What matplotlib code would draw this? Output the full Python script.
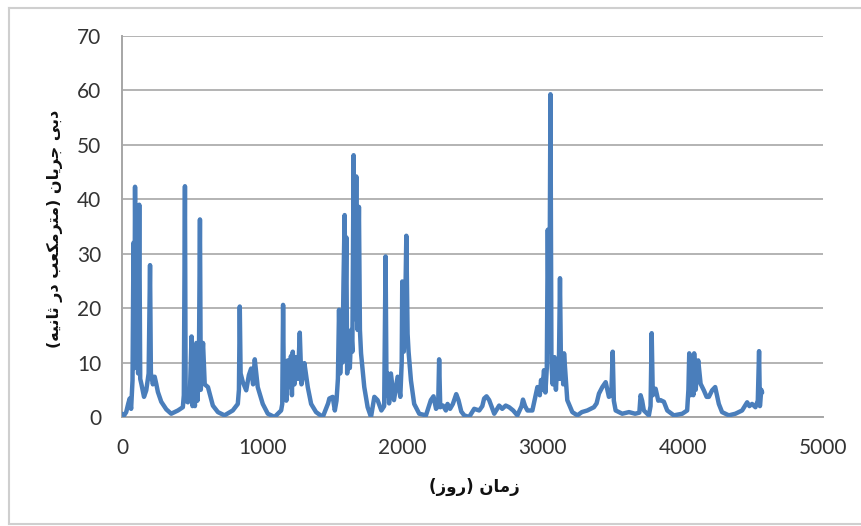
import matplotlib
matplotlib.use("Agg")
import matplotlib.pyplot as plt
from matplotlib.lines import Line2D

# ---------------- data ----------------
days = [0, 15, 30, 45, 55, 65, 75, 82, 88, 93, 100, 108, 115, 123, 130, 138, 157, 173, 190, 200,
        206, 209, 220, 233, 245, 256, 280, 316, 351, 399, 434, 441, 449, 454, 470, 485, 496, 503, 512, 520,
        530, 538, 548, 556, 562, 570, 578, 590, 613, 648, 684, 731, 790, 826, 834, 840, 846, 862, 886, 905,
        921, 935, 947, 968, 1004, 1040, 1088, 1135, 1143, 1149, 1155, 1165, 1172, 1182, 1195, 1205, 1212, 1218, 1230, 1242,
        1255, 1268, 1280, 1289, 1301, 1325, 1349, 1384, 1432, 1470, 1479, 1503, 1518, 1530, 1540, 1548, 1556, 1565, 1572, 1580,
        1588, 1594, 1600, 1606, 1615, 1625, 1635, 1643, 1652, 1660, 1671, 1680, 1690, 1697, 1705, 1728, 1752, 1776, 1800, 1823,
        1850, 1870, 1880, 1887, 1895, 1905, 1918, 1940, 1966, 1985, 1995, 1999, 2010, 2020, 2028, 2037, 2044, 2061, 2084, 2120,
        2168, 2203, 2222, 2240, 2255, 2262, 2270, 2290, 2310, 2322, 2340, 2360, 2384, 2400, 2420, 2441, 2476, 2512, 2548, 2570,
        2583, 2600, 2619, 2655, 2690, 2712, 2737, 2761, 2790, 2820, 2850, 2860, 2875, 2892, 2927, 2963, 2980, 2989, 2998, 3010,
        3020, 3030, 3037, 3045, 3050, 3056, 3063, 3072, 3085, 3095, 3105, 3115, 3124, 3132, 3140, 3147, 3153, 3176, 3212, 3248,
        3280, 3319, 3366, 3385, 3402, 3426, 3450, 3473, 3490, 3500, 3508, 3521, 3568, 3616, 3660, 3690, 3699, 3710, 3722, 3758,
        3770, 3778, 3786, 3806, 3825, 3841, 3865, 3889, 3936, 3996, 4031, 4040, 4046, 4055, 4065, 4075, 4081, 4092, 4100, 4110,
        4127, 4150, 4170, 4186, 4209, 4231, 4257, 4280, 4328, 4375, 4423, 4459, 4475, 4494, 4518, 4535, 4544, 4550, 4560, 4566]

flow = [0.6, 0.3, 0.9, 2.5, 3.4, 1.5, 6.7, 32.0, 9, 42.3, 12, 25, 8, 39.0, 7, 6.1, 3.7, 4.9, 8, 27.9,
        8, 7.7, 6, 7.4, 6, 4.6, 2.8, 1.4, 0.6, 1.2, 1.8, 4, 42.4, 3, 2.7, 5, 14.8, 2, 6, 2,
        13.6, 3, 8, 36.3, 5, 10, 13.6, 6, 5.5, 2.1, 0.9, 0.3, 1.2, 2.4, 5, 20.3, 8, 6.4, 4.9, 7.7,
        8.9, 6, 10.6, 5.5, 2.4, 0.6, 0.0, 1.2, 2.4, 20.6, 4, 9, 3, 10.4, 5.5, 11.2, 4, 12.0, 6, 11.0,
        7, 15.5, 6, 7.4, 9.9, 5.5, 2.4, 0.9, 0.0, 2.5, 3.4, 3.7, 1.2, 3, 7, 19.7, 8, 14, 10, 25,
        37.1, 20, 33, 8, 14, 9, 16, 12, 48.1, 18, 44.2, 16, 38.6, 16, 11.7, 5.5, 1.8, 0.0, 3.7, 3.1,
        1.2, 2, 29.5, 4, 8.0, 2.5, 8.0, 3.1, 7.4, 3.7, 10, 24.9, 12, 20, 33.3, 15.3, 12, 6.7, 2.4, 0.6,
        0.3, 3.1, 3.8, 1.5, 2, 10.6, 1.8, 2.1, 1.2, 2.4, 1.5, 2.4, 4.2, 3.1, 1.0, 0.3, 0.0, 1.5, 1.2, 2,
        3.4, 3.8, 3.1, 0.6, 2.1, 1.5, 2.1, 1.8, 1.2, 0.3, 2, 3.2, 2, 1.2, 1.2, 5.5, 4, 6.8, 5, 8.6,
        4.5, 9, 34.4, 12, 25, 59.3, 10, 6, 11, 5, 10, 7, 25.5, 7, 11.6, 6, 11.7, 3.1, 0.9, 0.3,
        0.9, 1.2, 1.8, 2.5, 4.3, 5.5, 6.4, 3.7, 4, 12.0, 3, 1.2, 0.6, 0.9, 0.6, 0.8, 4.0, 3, 1.2, 0.3,
        2, 15.4, 4, 5.2, 3, 3.1, 2.8, 1.2, 0.3, 0.6, 1.2, 5, 11.7, 4, 8, 4, 11.7, 5, 8, 10.4,
        6.1, 4.9, 3.7, 3.7, 4.9, 5.5, 2.4, 0.9, 0.3, 0.6, 1.2, 2.7, 2, 2.4, 1.8, 3, 12.1, 2, 5, 4.5]

x_ticks = [0, 1000, 2000, 3000, 4000, 5000]
y_ticks = [0, 10, 20, 30, 40, 50, 60, 70]
x_label_text = "زمان (روز)"
y_label_text = "دبی جریان (مترمکعب در ثانیه)"

# ---------------- minimal Arabic shaping (matplotlib has no shaper) ----------------
FORMS = {
    'ا': (0xFE8D, 0xFE8E, None, None),
    'ب': (0xFE8F, 0xFE90, 0xFE91, 0xFE92),
    'ت': (0xFE95, 0xFE96, 0xFE97, 0xFE98),
    'ث': (0xFE99, 0xFE9A, 0xFE9B, 0xFE9C),
    'ج': (0xFE9D, 0xFE9E, 0xFE9F, 0xFEA0),
    'د': (0xFEA9, 0xFEAA, None, None),
    'ر': (0xFEAD, 0xFEAE, None, None),
    'ز': (0xFEAF, 0xFEB0, None, None),
    'ع': (0xFEC9, 0xFECA, 0xFECB, 0xFECC),
    'ک': (0xFB8E, 0xFB8F, 0xFB90, 0xFB91),
    'م': (0xFEE1, 0xFEE2, 0xFEE3, 0xFEE4),
    'ن': (0xFEE5, 0xFEE6, 0xFEE7, 0xFEE8),
    'و': (0xFEED, 0xFEEE, None, None),
    'ه': (0xFEE9, 0xFEEA, 0xFEEB, 0xFEEC),
    'ی': (0xFBFC, 0xFBFD, 0xFBFE, 0xFBFF),
}


def rtl(s):
    out = []
    for i, ch in enumerate(s):
        if ch not in FORMS:
            out.append(ch)
            continue
        prev_j = i > 0 and s[i - 1] in FORMS and FORMS[s[i - 1]][2] is not None
        next_j = FORMS[ch][2] is not None and i + 1 < len(s) and s[i + 1] in FORMS
        iso, fin, ini, med = FORMS[ch]
        if prev_j and next_j:
            cp = med
        elif prev_j:
            cp = fin
        elif next_j:
            cp = ini
        else:
            cp = iso
        out.append(chr(cp))
    vis = ''.join(reversed(out))
    return vis.translate(str.maketrans({'(': ')', ')': '('}))


# ---------------- figure ----------------
W, H = 862, 526
fig = plt.figure(figsize=(W / 100, H / 100), dpi=100)
fig.patch.set_facecolor('white')
ax = fig.add_axes([122 / W, 1 - 417 / H, (823 - 122) / W, (417 - 36) / H])

ax.plot(days, flow, color='#4a7ebb', lw=3.2, solid_joinstyle='round', solid_capstyle='round', zorder=3)

ax.set_xlim(0, 5000)
ax.set_ylim(0, 70)
ax.set_xticks(x_ticks)
ax.set_yticks(y_ticks)
ax.set_xticklabels([str(v) for v in x_ticks])
ax.set_yticklabels([str(v) for v in y_ticks])

ax.grid(axis='y', color='#b3b3b3', lw=1.4, zorder=0)
ax.set_axisbelow(True)
for side in ('top', 'right'):
    ax.spines[side].set_visible(False)
for side in ('left', 'bottom'):
    ax.spines[side].set_color('#a6a6a6')
    ax.spines[side].set_linewidth(1.4)

tick_font = dict(family=['Lato', 'DejaVu Sans'], size=15, color='#333333')
ax.tick_params(axis='both', length=0)
ax.tick_params(axis='y', pad=15)
ax.tick_params(axis='x', pad=15)
for lab in ax.get_xticklabels() + ax.get_yticklabels():
    lab.set_fontfamily(tick_font['family'])
    lab.set_fontsize(tick_font['size'])
    lab.set_color(tick_font['color'])

fig.text(474 / W, 1 - 487 / H, rtl(x_label_text), ha='center', va='center',
         fontsize=12, fontweight='bold', family=['DejaVu Sans'], color='#111111')
fig.text(55 / W, 1 - 229 / H, rtl(y_label_text), ha='center', va='center', rotation=90,
         fontsize=11.5, fontweight='bold', family=['DejaVu Sans'], color='#111111')

# chart-area border
bc = '#cfcfcf'
fig.add_artist(Line2D([9 / W, 9 / W], [1 - 8 / H, 1 - 524 / H], transform=fig.transFigure, color=bc, lw=1.5))
fig.add_artist(Line2D([9 / W, 1.0], [1 - 8 / H, 1 - 8 / H], transform=fig.transFigure, color=bc, lw=1.5))
fig.add_artist(Line2D([9 / W, 1.0], [1 - 524 / H, 1 - 524 / H], transform=fig.transFigure, color=bc, lw=1.5))

fig.savefig('out.png', dpi=100, facecolor='white')
